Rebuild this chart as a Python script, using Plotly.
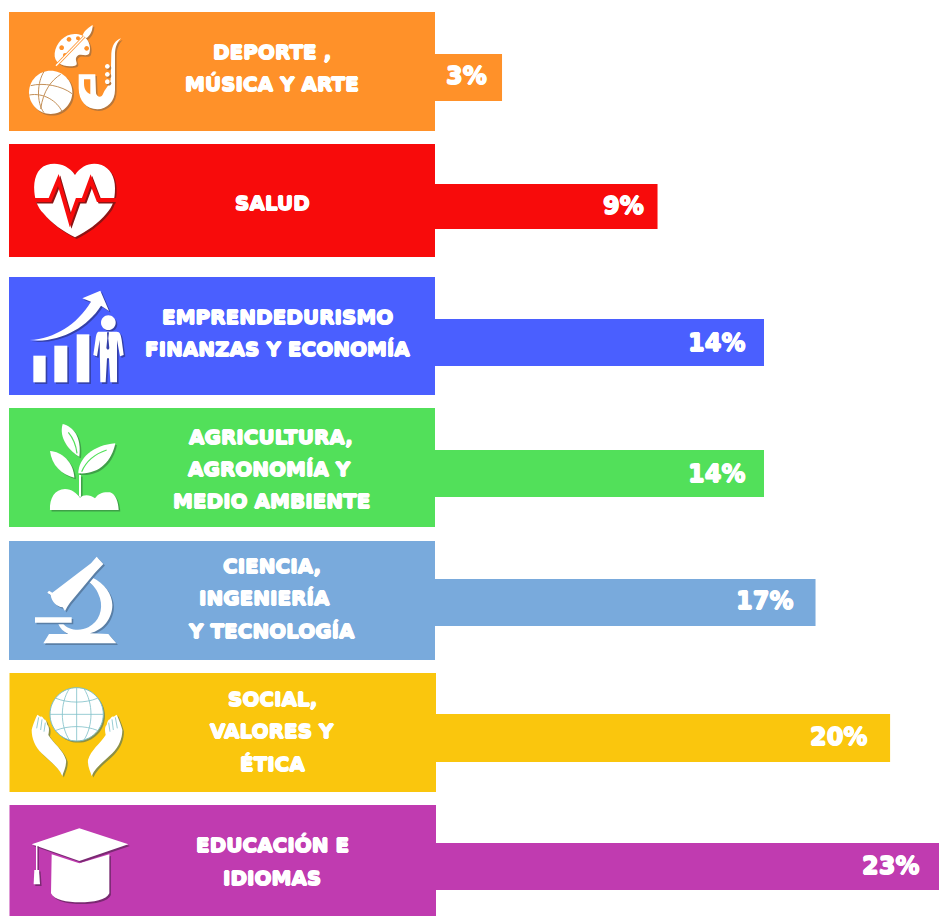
import re
import plotly.graph_objects as go

# values as printed on the chart, bar lengths
labels = ["3%", "9%", "14%", "14%", "17%", "20%", "23%"]
bar_lengths = [2.94, 9.76, 14.43, 14.43, 16.69, 19.96, 23.0]
colors = ["#FF9129", "#F80B0B", "#4A5FFF", "#52E05A", "#79AADC", "#FAC60D", "#C03BB0"]
shadows = ["#B9773A", "#8E1414", "#3440A8", "#3FA048", "#5A7FA6", "#A08C3A", "#7A2A72"]

category_lines = [
    ["DEPORTE ,", "MÚSICA Y ARTE"],
    ["SALUD"],
    ["EMPRENDEDURISMO", "FINANZAS Y ECONOMÍA"],
    ["AGRICULTURA,", "AGRONOMÍA Y", "MEDIO AMBIENTE"],
    ["CIENCIA,", "INGENIERÍA", "Y TECNOLOGÍA"],
    ["SOCIAL,", "VALORES Y", "ÉTICA"],
    ["EDUCACIÓN E", "IDIOMAS"],
]

# layout, everything in pixels of the 939x916 page
W, H = 939, 916
PX_PER_PCT = 22.8
BAR_X0 = 435
panel_left = [9, 9, 9, 9, 9, 9.5, 9.5]
panel_right = [435, 435, 435, 435, 435, 436, 436]
panel_top = [12, 144, 277, 408, 541, 673, 805]
panel_bottom = [131, 257, 395, 527, 660, 792, 920]
bar_top = [54, 184, 319, 450, 579, 714, 843]
bar_bottom = [101, 229, 366, 497, 626, 762, 890]
line_x = [[272, 271.5], [272], [277.5, 277.5], [271, 269, 271], [272, 264, 271], [272, 272, 272], [272, 272]]
line_y = [[52, 84], [203], [317, 349], [437, 469, 501], [566, 598, 631], [699, 731, 764], [845, 878]]
label_right = [489, 646, 747, 747, 795, 869, 921]
label_y = [76, 206, 343, 474, 601, 737, 866]

# fattens the bold face towards the heavy display lettering of the original
HEAVY = "0.7px 0 0 white, -0.7px 0 0 white, 0 0.6px 0 white, 0 -0.6px 0 white"


def place(path, ox, oy, mirror=None):
    # icon paths are written in 3x crop coordinates, bring them back to page pixels
    nums = iter(range(10**6))

    def fix(m):
        v = float(m.group())
        if next(nums) % 2 == 0:
            if mirror is not None:
                v = mirror - v
            return f"{v / 3 + ox:.2f}"
        return f"{v / 3 + oy:.2f}"

    return re.sub(r"-?\d+\.?\d*", fix, path)


def circle(cx, cy, r):
    k = 0.5523 * r
    return (f"M{cx - r},{cy} C{cx - r},{cy - k} {cx - k},{cy - r} {cx},{cy - r} "
            f"C{cx + k},{cy - r} {cx + r},{cy - k} {cx + r},{cy} "
            f"C{cx + r},{cy + k} {cx + k},{cy + r} {cx},{cy + r} "
            f"C{cx - k},{cy + r} {cx - r},{cy + k} {cx - r},{cy} Z")


shapes = []


def solid(path, shadow, fill="white"):
    # white piece with its hard drop shadow underneath
    shift = re.sub(r"(-?\d+\.?\d*),(-?\d+\.?\d*)", lambda m: f"{float(m.group(1)) + 1.6:.2f},{float(m.group(2)) + 1.6:.2f}", path)
    shapes.append(dict(type="path", xref="x2", yref="y", path=shift, fillcolor=shadow, line_width=0))
    shapes.append(dict(type="path", xref="x2", yref="y", path=path, fillcolor=fill, line_width=0))


def detail(path, fill=None, stroke=None, width=1.0):
    shapes.append(dict(type="path", xref="x2", yref="y", path=path,
                       fillcolor=fill if fill else "rgba(0,0,0,0)",
                       line=dict(color=stroke if stroke else "rgba(0,0,0,0)", width=width if stroke else 0)))


# sports, music, art
ox, oy, sh, bg = 20, 15, shadows[0], colors[0]
solid(place(circle(92, 232, 65), ox, oy), sh)
for seam in ["M32,212 C70,202 125,212 156,236", "M28,240 C70,232 112,258 126,290",
             "M72,170 C52,200 48,262 72,293", "M122,178 C95,196 70,225 62,282"]:
    detail(place(seam, ox, oy), stroke="#C49058", width=1)
solid(place("M104,115 C108,80 140,50 175,58 C205,62 215,95 208,115 C200,128 180,112 170,125 "
            "C162,135 178,148 165,152 C140,158 100,150 104,115 Z", ox, oy), sh)
for hole in [(125, 98, 7), (147, 73, 7), (174, 70, 6), (200, 100, 7), (135, 120, 6)]:
    detail(place(circle(*hole), ox, oy), fill=bg)
detail(place("M108,152 L195,62", ox, oy), stroke=bg, width=3)
detail(place("M108,152 L195,62", ox, oy), stroke="white", width=1.4)
solid(place("M188,60 C194,45 208,36 218,30 C218,45 212,62 198,70 Z", ox, oy), sh)
solid(place("M303,70 C287,75 276,90 274,115 L272,195 C265,215 255,222 250,235 C245,250 232,248 228,235 "
            "L226,178 L176,178 L176,220 C176,258 200,283 232,283 C262,283 285,258 285,225 L285,120 "
            "C285,95 292,82 303,70 Z", ox, oy), sh)
detail(place("M192,193 L211,193 L211,238 C200,232 192,225 192,205 Z", ox, oy), fill=bg)
for key in [(262, 154, 7), (262, 178, 7), (262, 200, 7)]:
    solid(place(circle(*key), ox, oy), sh)

# health
ox, oy, sh = 0, 0, shadows[1]
solid(place("M225,525 C205,495 170,485 140,495 C110,505 100,540 103,575 C105,600 112,620 130,640 "
            "C155,670 190,695 225,712 C260,695 295,670 320,640 C338,620 345,600 345,565 "
            "C345,530 330,505 305,495 C275,485 245,495 225,525 Z", ox, oy), sh)
ecg = "M104,600 L150,600 L175,540 L210,662 L232,600 L250,600 L272,540 L295,600 L342,600"
detail(place(ecg, ox + 1.6, oy + 1.6), stroke=sh, width=4)
detail(place("M96,600 L150,600 L175,540 L210,662 L232,600 L250,600 L272,540 L295,600 L356,600", ox, oy), stroke=colors[1], width=4)

# business
ox, oy, sh, bg = 25, 285, shadows[2], colors[2]
for bar in ["M25,212 L62,212 L62,292 L25,292 Z", "M88,182 L127,182 L127,292 L88,292 Z",
            "M155,148 L193,148 L193,292 L155,292 Z"]:
    solid(place(bar, ox, oy), sh)
solid(place("M14,165 C90,160 155,120 198,50 L172,40 L226,17 L252,78 L228,62 C185,130 100,175 14,165 Z", ox, oy), sh)
solid(place(circle(250, 113, 22), ox, oy), sh)
solid(place("M222,140 L275,140 C285,140 288,150 290,165 L296,210 L285,214 L276,165 L276,292 L256,292 L252,220 "
            "L246,220 L242,292 L226,292 L224,165 L216,214 L205,210 L212,160 C214,148 216,140 222,140 Z", ox, oy), sh)
detail(place("M246,142 L252,142 L250,160 L253,190 L249,195 L244,190 L247,160 Z", ox, oy), fill=sh)

# plant
ox, oy, sh, bg = 40, 415, shadows[3], colors[3]
solid(place("M68,27 C100,35 125,65 118,125 C90,110 55,70 68,27 Z", ox, oy), sh)
detail(place("M85,52 C100,70 108,90 111,115", ox, oy), stroke=bg, width=1.2)
solid(place("M30,108 C65,110 100,140 103,188 C65,180 35,150 30,108 Z", ox, oy), sh)
solid(place("M226,85 C215,140 175,180 115,175 C115,130 160,90 226,85 Z", ox, oy), sh)
detail(place("M125,170 C140,135 170,115 200,105", ox, oy), stroke=bg, width=1.2)
solid(place("M117,180 L123,180 L123,245 L117,245 Z", ox, oy), sh)
solid(place("M30,285 C28,250 45,222 75,222 C95,222 110,235 120,248 C130,238 150,238 165,250 "
            "C175,235 190,230 210,232 C228,238 235,262 236,285 Z", ox, oy), sh)

# microscope
ox, oy, sh = 25, 550, shadows[4]
solid(place("M200,82 C240,100 262,135 262,165 C262,205 235,240 195,250 L250,252 L274,280 L55,280 L72,252 L130,252 "
            "C115,245 105,235 100,222 L115,222 C130,240 165,245 190,232 C222,215 235,180 225,145 "
            "C218,120 205,105 190,95 Z", ox, oy), sh)
solid(place("M215,20 L235,42 L210,68 L135,158 L127,170 L120,183 L113,172 C95,170 80,155 77,135 L67,128 L72,122 "
            "L82,128 L198,40 Z", ox, oy), sh)
solid(place("M30,202 L140,202 L140,218 L30,218 Z", ox, oy), sh)

# globe in hands
ox, oy, sh = 20, 680, "#8C8F45"
teal = "#7DBFC8"
solid(place(circle(170, 103, 80), ox, oy), sh)
detail(place(circle(170, 103, 80), ox, oy), stroke=teal, width=1)
for meridian in ["M170,23 L170,183", "M90,103 L250,103", "M108,55 C145,70 195,70 232,55", "M108,151 C145,136 195,136 232,151",
                 "M148,26 C120,70 120,136 148,180", "M192,26 C220,70 220,136 192,180"]:
    detail(place(meridian, ox, oy), stroke=teal, width=0.8)
hand = ("M35,150 C40,130 48,112 52,104 C58,108 60,110 62,110 C66,108 70,114 72,118 C78,118 80,128 82,135 "
        "C88,140 88,150 85,165 C100,190 130,210 138,240 C140,260 130,275 127,288 C115,260 85,240 65,220 "
        "C45,200 35,175 35,150 Z")
fingers = ["M50,145 L56,112", "M62,150 L66,118", "M72,155 L76,128"]
for mirror in [None, 342]:
    solid(place(hand, ox, oy, mirror), sh)
    for finger in fingers:
        detail(place(finger, ox, oy, mirror), stroke=teal, width=0.8)

# graduation cap
ox, oy, sh = 0, 795, shadows[6]
solid(place("M155,178 L238,205 L328,178 L328,295 C320,315 280,322 240,322 C200,322 162,315 153,295 Z", ox, oy), sh)
solid(place("M238,100 L385,148 L238,198 L95,148 Z", ox, oy), sh)
solid(place("M108,150 L112,150 L112,226 L108,226 Z", ox, oy), sh)
solid(place("M103,225 L117,225 L120,268 L101,268 Z", ox, oy), sh)

# bars and their panels
row_y = [(t + b) / 2 for t, b in zip(bar_top, bar_bottom)]
bar_h = [b - t for t, b in zip(bar_top, bar_bottom)]
panel_y = [(t + b) / 2 for t, b in zip(panel_top, panel_bottom)]
panel_h = [b - t for t, b in zip(panel_top, panel_bottom)]
panel_w = [r - l for l, r in zip(panel_left, panel_right)]

fig = go.Figure()
fig.add_trace(go.Bar(y=row_y, x=bar_lengths, width=bar_h, orientation="h", marker=dict(color=colors, line_width=0),
                     hoverinfo="skip", showlegend=False))
fig.add_trace(go.Bar(y=panel_y, x=panel_w, base=panel_left, width=panel_h, orientation="h",
                     marker=dict(color=colors, line_width=0), xaxis="x2", hoverinfo="skip", showlegend=False))

annotations = []
for lines, xs, ys in zip(category_lines, line_x, line_y):
    for line, x, y in zip(lines, xs, ys):
        annotations.append(dict(x=x, y=y, xref="x2", yref="y", text=line, showarrow=False, xanchor="center", yanchor="middle",
                                font=dict(family="DejaVu Sans", size=20, color="white", weight=700, shadow=HEAVY)))
for label, x, y in zip(labels, label_right, label_y):
    annotations.append(dict(x=x, y=y, xref="x2", yref="y", text=label, showarrow=False, xanchor="right", yanchor="middle",
                            font=dict(family="DejaVu Sans", size=24, color="white", weight=700, shadow=HEAVY)))

fig.update_layout(width=W, height=H, margin=dict(l=0, r=0, t=0, b=0), paper_bgcolor="white", plot_bgcolor="white",
                  barmode="overlay", showlegend=False, shapes=shapes, annotations=annotations,
                  xaxis=dict(range=[-BAR_X0 / PX_PER_PCT, (W - BAR_X0) / PX_PER_PCT], visible=False, fixedrange=True),
                  xaxis2=dict(range=[0, W], overlaying="x", visible=False, fixedrange=True),
                  yaxis=dict(range=[H, 0], visible=False, fixedrange=True))

fig.write_html("out.html", config=dict(displayModeBar=False),
               post_script="document.body.style.margin='0';document.body.style.overflow='hidden';")
